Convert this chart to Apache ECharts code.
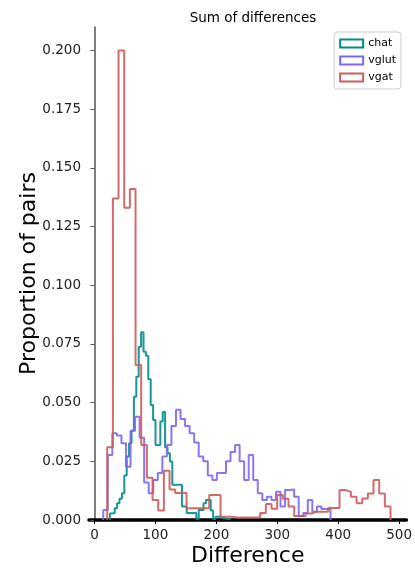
<!DOCTYPE html>
<html>
<head>
    <meta charset="UTF-8">
    <title>Sum of differences</title>
    <script src="https://cdn.jsdelivr.net/npm/echarts@6/dist/echarts.min.js"></script>
</head>
<body style="margin: 0;overflow: hidden;background: #fff;">
<div id="chart" style="width: 415px;height: 572px;"></div>
<script type="text/javascript">
    // histogram bins: start of first bin and bin width, then 50 bin heights per group
    var chatStart = 25.3, chatWidth = 3.94;
    var chatValues = [0.0028, 0.003, 0.005, 0.0071, 0.009, 0.0114, 0.019, 0.027, 0.0327, 0.038,
        0.0525, 0.061, 0.0738, 0.080, 0.0717, 0.070, 0.060, 0.049, 0.0426, 0.032,
        0.032, 0.042, 0.046, 0.031, 0.0284, 0.0249, 0.015, 0.015, 0.015, 0.015,
        0.0057, 0.0057, 0.003, 0.003, 0.003, 0.003, 0.0004, 0.0043, 0.0043, 0.0071,
        0.0085, 0.0085, 0.004, 0.0004, 0.0014, 0.0014, 0.0007, 0.0007, 0.0004, 0.0004];

    var vglutStart = 14.4, vglutWidth = 7.46;
    var vglutValues = [0.0043, 0.0277, 0.037, 0.036, 0.0327, 0.0227, 0.038, 0.044, 0.035, 0.016,
        0.0114, 0.017, 0.020, 0.027, 0.032, 0.040, 0.047, 0.043, 0.040, 0.037,
        0.033, 0.027, 0.025, 0.019, 0.017, 0.020, 0.020, 0.025, 0.029, 0.032,
        0.025, 0.017, 0.0277, 0.017, 0.0114, 0.0085, 0.0099, 0.0085, 0.012, 0.0057,
        0.0128, 0.013, 0.0099, 0.0017, 0.003, 0.0085, 0.0035, 0.0057, 0.0047, 0.0047];

    var vgatStart = 20.9, vgatWidth = 9.3;
    var vgatValues = [0.031, 0.137, 0.200, 0.133, 0.141, 0.066, 0.032, 0.018, 0.0085, 0.004,
        0.021, 0.013, 0.0115, 0.0115, 0.005, 0.005, 0.005, 0.005, 0.0106, 0.0106,
        0.0014, 0.0014, 0.0011, 0.0011, 0.0011, 0.0011, 0.0011, 0.003, 0.0068, 0.0048,
        0.0106, 0.009, 0.0057, 0.0017, 0.0017, 0.0028, 0.0035, 0.0035, 0.0035, 0.0051,
        0.0051, 0.0128, 0.012, 0.0099, 0.0071, 0.0092, 0.0113, 0.017, 0.0113, 0.0057];

    var groups = ['chat', 'vglut', 'vgat'];
    var xTicks = [0, 100, 200, 300, 400, 500];
    var yTicks = [0, 0.025, 0.05, 0.075, 0.1, 0.125, 0.15, 0.175, 0.2];

    var colors = ['#008b8b', '#7b68ee', '#cd5c5c'];

    // outline of a step histogram, like histtype='step'
    function stepOutline(start, width, values) {
        var pts = [[start, 0]];
        for (var i = 0; i < values.length; i++) {
            pts.push([start + i * width, values[i]]);
            pts.push([start + (i + 1) * width, values[i]]);
        }
        pts.push([start + values.length * width, 0]);
        return pts;
    }

    var outlines = [
        stepOutline(chatStart, chatWidth, chatValues),
        stepOutline(vglutStart, vglutWidth, vglutValues),
        stepOutline(vgatStart, vgatWidth, vgatValues)
    ];

    var chart = echarts.init(document.getElementById('chart'));
    var font = 'DejaVu Sans';
    chart.setOption({
        animation: false,
        title: {
            text: 'Sum of differences',
            left: 248,
            textAlign: 'center',
            top: 6,
            textStyle: {fontFamily: font, fontSize: 13.5, fontWeight: 'normal', color: '#000'}
        },
        legend: {
            orient: 'vertical',
            right: 14,
            top: 32,
            padding: [6, 5, 6, 5],
            itemGap: 6,
            itemWidth: 23,
            itemHeight: 8,
            borderColor: '#ccc',
            borderWidth: 1,
            borderRadius: 3,
            backgroundColor: 'rgba(255,255,255,0.8)',
            textStyle: {fontFamily: font, fontSize: 11, color: '#000'},
            data: groups.map(function (g, i) {
                return {
                    name: g,
                    icon: 'rect',
                    itemStyle: {color: '#fff', borderColor: colors[i], borderWidth: 2}
                };
            })
        },
        grid: {left: 89, right: 7, top: 27, bottom: 52},
        xAxis: {
            type: 'value',
            min: -9,
            max: 512,
            name: 'Difference',
            nameLocation: 'middle',
            nameGap: 25,
            nameMoveOverlap: false,
            nameTextStyle: {fontFamily: font, fontSize: 22, color: '#000'},
            splitLine: {show: false},
            axisLine: {lineStyle: {color: '#000', width: 3.5}},
            axisTick: {show: true, length: 4, customValues: xTicks, lineStyle: {color: '#000'}},
            axisLabel: {
                customValues: xTicks,
                margin: 8,
                fontFamily: font, fontSize: 13.5, color: '#222'
            }
        },
        yAxis: {
            type: 'value',
            min: 0,
            max: 0.21,
            name: 'Proportion of pairs',
            nameLocation: 'middle',
            nameGap: 49,
            nameMoveOverlap: false,
            nameTextStyle: {fontFamily: font, fontSize: 22, color: '#000'},
            splitLine: {show: false},
            axisLine: {show: true, lineStyle: {color: '#555', width: 1.5}},
            axisTick: {show: true, length: 4, customValues: yTicks, lineStyle: {color: '#555'}},
            axisLabel: {
                customValues: yTicks,
                margin: 8,
                fontFamily: font, fontSize: 13.5, color: '#222',
                formatter: function (v) { return v.toFixed(3); }
            }
        },
        series: groups.map(function (g, i) {
            return {
                name: g,
                type: 'line',
                data: outlines[i],
                showSymbol: false,
                lineStyle: {color: colors[i], width: 2, opacity: 0.9},
                itemStyle: {color: colors[i]}
            };
        })
    });
</script>
</body>
</html>
